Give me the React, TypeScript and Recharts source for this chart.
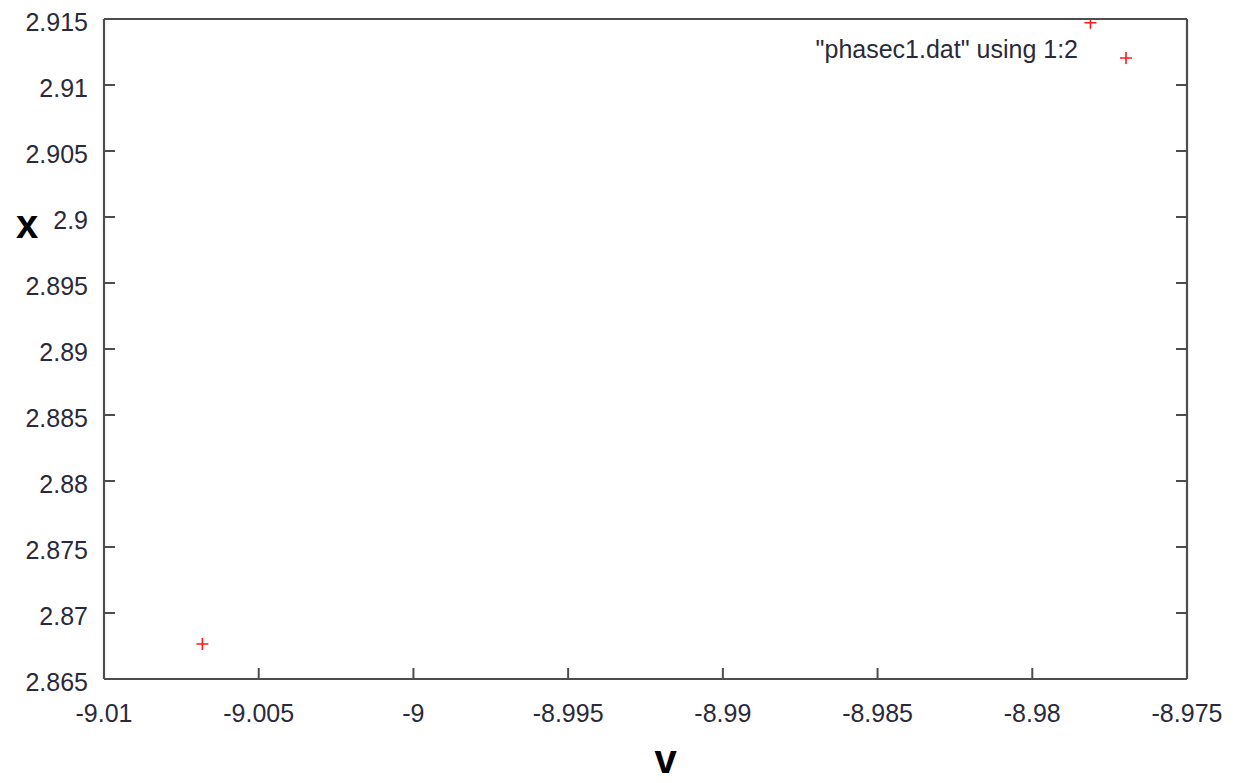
import { Legend, Scatter, ScatterChart, XAxis, YAxis } from "recharts";

// phase plot samples: velocity v against position x
const vValues = [-9.00682, -8.97812];
const xValues = [2.86765, 2.91472];

const vTicks = [-9.01, -9.005, -9, -8.995, -8.99, -8.985, -8.98, -8.975];
const vTickLabels = ["-9.01", "-9.005", "-9", "-8.995", "-8.99", "-8.985", "-8.98", "-8.975"];
const xTicks = [2.865, 2.87, 2.875, 2.88, 2.885, 2.89, 2.895, 2.9, 2.905, 2.91, 2.915];
const xTickLabels = ["2.865", "2.87", "2.875", "2.88", "2.885", "2.89", "2.895", "2.9", "2.905", "2.91", "2.915"];

const seriesName = '"phasec1.dat" using 1:2';

const data = vValues.map((v, i) => ({ v, x: xValues[i] }));

const FRAME = "#4d4d4d";
const TEXT = "#2a2a3a";
const POINT = "#ff1a1a";
const FONT = "'Liberation Sans', Arial, sans-serif";
const TICK_LEN = 11;

const labelFor = (ticks: number[], labels: string[], value: number) => {
  const i = ticks.findIndex((t) => Math.abs(t - value) < 1e-9);
  return i >= 0 ? labels[i] : String(value);
};

const BottomTick = ({ x, y, payload }: any) => (
  <g>
    <line x1={x} y1={y} x2={x} y2={y - TICK_LEN} stroke={FRAME} strokeWidth={2} />
    <text x={x} y={y + 43} textAnchor="middle" fontSize={25} fontFamily={FONT} fill={TEXT}>
      {labelFor(vTicks, vTickLabels, payload.value)}
    </text>
  </g>
);

const TopTick = ({ x, y }: any) => (
  <line x1={x} y1={y} x2={x} y2={y + TICK_LEN} stroke={FRAME} strokeWidth={2} />
);

const LeftTick = ({ x, y, payload }: any) => (
  <g>
    <line x1={x} y1={y} x2={x + TICK_LEN} y2={y} stroke={FRAME} strokeWidth={2} />
    <text x={x - 16} y={y + 12} textAnchor="end" fontSize={25} fontFamily={FONT} fill={TEXT}>
      {labelFor(xTicks, xTickLabels, payload.value)}
    </text>
  </g>
);

const RightTick = ({ x, y }: any) => (
  <line x1={x} y1={y} x2={x - TICK_LEN} y2={y} stroke={FRAME} strokeWidth={2} />
);

const Cross = ({ cx, cy }: any) => (
  <path
    d={`M${cx - 6},${cy}H${cx + 6}M${cx},${cy - 6}V${cy + 6}`}
    stroke={POINT}
    strokeWidth={1.6}
    fill="none"
  />
);

const KeyContent = ({ payload }: any) => (
  <svg width={340} height={44} style={{ display: "block" }}>
    <text x={278} y={28} textAnchor="end" fontSize={25} fontFamily={FONT} fill={TEXT}>
      {payload?.[0]?.value ?? seriesName}
    </text>
    <Cross cx={326} cy={28} />
  </svg>
);

export default function App() {
  return (
    <div style={{ position: "absolute", left: 0, top: 0, background: "#fff" }}>
      <ScatterChart
        width={1233}
        height={783}
        margin={{ top: 0, right: 0, bottom: 0, left: 0 }}
      >
        <XAxis
          type="number"
          dataKey="v"
          domain={[-9.01, -8.975]}
          ticks={vTicks}
          allowDataOverflow
          height={104}
          axisLine={{ stroke: FRAME, strokeWidth: 2.2 }}
          tickLine={false}
          tickSize={0}
          tickMargin={0}
          tick={<BottomTick />}
          interval={0}
          label={{
            content: ({ viewBox }: any) => (
              <text
                x={viewBox.x + viewBox.width / 2 + 20}
                y={viewBox.y + 94}
                textAnchor="middle"
                fontSize={40}
                fontWeight="bold"
                fontFamily={FONT}
                fill="#000"
              >
                v
              </text>
            ),
          }}
        />
        <XAxis
          xAxisId="top"
          orientation="top"
          type="number"
          domain={[-9.01, -8.975]}
          ticks={vTicks}
          allowDataOverflow
          height={19}
          axisLine={{ stroke: FRAME, strokeWidth: 2.2 }}
          tickLine={false}
          tickSize={0}
          tickMargin={0}
          tick={<TopTick />}
          interval={0}
        />
        <YAxis
          type="number"
          dataKey="x"
          domain={[2.865, 2.915]}
          ticks={xTicks}
          allowDataOverflow
          width={104}
          axisLine={{ stroke: FRAME, strokeWidth: 2.2 }}
          tickLine={false}
          tickSize={0}
          tickMargin={0}
          tick={<LeftTick />}
          interval={0}
          label={{
            content: ({ viewBox }: any) => (
              <text
                x={viewBox.x + 27}
                y={viewBox.y + 219}
                textAnchor="middle"
                fontSize={40}
                fontWeight="bold"
                fontFamily={FONT}
                fill="#000"
              >
                x
              </text>
            ),
          }}
        />
        <YAxis
          yAxisId="right"
          orientation="right"
          type="number"
          domain={[2.865, 2.915]}
          ticks={xTicks}
          allowDataOverflow
          width={46}
          axisLine={{ stroke: FRAME, strokeWidth: 2.2 }}
          tickLine={false}
          tickSize={0}
          tickMargin={0}
          tick={<RightTick />}
          interval={0}
        />
        <Legend
          layout="horizontal"
          verticalAlign="middle"
          align="center"
          content={<KeyContent />}
          wrapperStyle={{ top: 30, left: 800, width: 340, height: 44 }}
        />
        <Scatter
          name={seriesName}
          data={data}
          fill={POINT}
          shape={<Cross />}
          isAnimationActive={false}
        />
      </ScatterChart>
    </div>
  );
}
